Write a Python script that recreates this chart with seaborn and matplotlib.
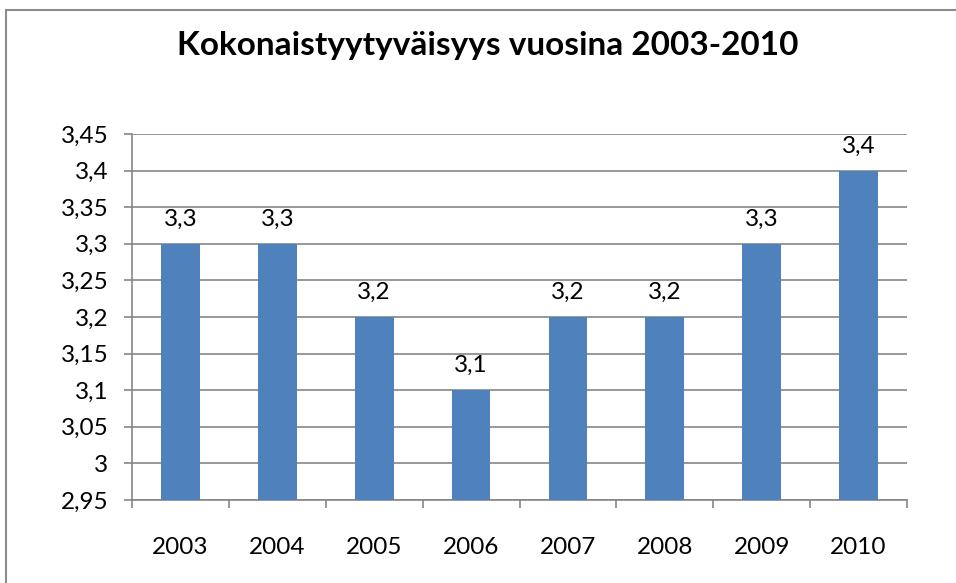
import matplotlib
matplotlib.use("Agg")
import matplotlib.pyplot as plt
import seaborn as sns
import pandas as pd
from matplotlib.lines import Line2D

years = ["2003", "2004", "2005", "2006", "2007", "2008", "2009", "2010"]
values = [3.3, 3.3, 3.2, 3.1, 3.2, 3.2, 3.3, 3.4]
labels = ["3,3", "3,3", "3,2", "3,1", "3,2", "3,2", "3,3", "3,4"]
yticks = [2.95, 3.0, 3.05, 3.1, 3.15, 3.2, 3.25, 3.3, 3.35, 3.4, 3.45]
yticklabels = ["2,95", "3", "3,05", "3,1", "3,15", "3,2", "3,25", "3,3", "3,35", "3,4", "3,45"]
title = "Kokonaistyytyväisyys vuosina 2003-2010"

sns.set_theme(style="white")
plt.rcParams['font.family'] = ['Lato', 'DejaVu Sans']

df = pd.DataFrame({"year": years, "value": values})

W, H = 956, 583
fig = plt.figure(figsize=(W / 100, H / 100), dpi=100)
ax = fig.add_axes([132 / W, 1 - 500 / H, (907 - 132) / W, (500 - 134) / H])

grid_c = "#868686"
sns.barplot(data=df, x="year", y="value", color="#4F81BD", width=0.4,
            saturation=1, ax=ax, zorder=3)
for p in ax.patches:
    p.set_edgecolor("none")
    p.set_zorder(3)

ax.set_ylim(2.95, 3.45)
ax.set_xlim(-0.5, len(years) - 0.5)
ax.set_yticks(yticks)
ax.set_yticklabels(yticklabels)
ax.yaxis.grid(True, color=grid_c, linewidth=1.2, zorder=0)
ax.set_axisbelow(True)
ax.set_xlabel("")
ax.set_ylabel("")

for s in ["top", "right"]:
    ax.spines[s].set_visible(False)
for s in ["left", "bottom"]:
    ax.spines[s].set_color(grid_c)
    ax.spines[s].set_linewidth(1.2)

ax.tick_params(axis="y", which="major", left=True, length=6, width=1.2,
               color=grid_c, pad=11, labelsize=17.5, labelcolor="black")
ax.tick_params(axis="x", which="major", bottom=False, pad=21, labelsize=17.5,
               labelcolor="black")
ax.set_xticks([i - 0.5 for i in range(len(years) + 1)], minor=True)
ax.tick_params(axis="x", which="minor", bottom=True, length=6, width=1.2,
               color=grid_c)

for i, (v, lab) in enumerate(zip(values, labels)):
    ax.annotate(lab, (i, v), xytext=(0, 10), textcoords="offset points",
                ha="center", va="bottom", fontsize=17.5, color="black")

fig.text(0.5 * (176 + 800) / W, 1 - 45 / H, title, ha="center", va="center",
         fontsize=24, fontweight="bold", color="black")

# chart-area border (left and top visible in reference)
fig.add_artist(Line2D([6 / W, 6 / W], [0, 1 - 10 / H], transform=fig.transFigure,
                      color="#8c8c8c", linewidth=1.5))
fig.add_artist(Line2D([6 / W, 1], [1 - 10 / H, 1 - 10 / H], transform=fig.transFigure,
                      color="#8c8c8c", linewidth=1.5))

fig.savefig("out.png", dpi=100)
